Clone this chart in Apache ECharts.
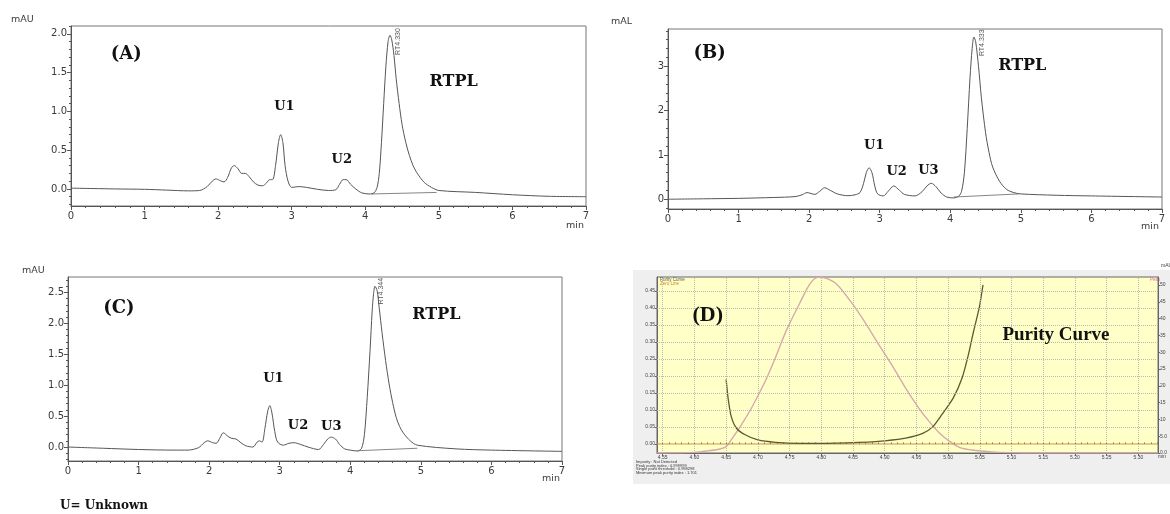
<!DOCTYPE html>
<html>
<head>
<meta charset="utf-8">
<title>chromatograms</title>
<script src="https://cdn.jsdelivr.net/npm/echarts@6/dist/echarts.min.js"></script>
<style>body{margin:0;background:#fff}#chart{width:1170px;height:514px}</style>
</head>
<body>
<div id="chart"></div>
<script type="text/javascript">
// ---- values: [time (min), signal] ----
var traceA = [[0,0.01],[0.3,0.005],[0.6,0.0],[1.0,-0.005],[1.3,-0.015],[1.6,-0.025],[1.75,-0.02],[1.85,0.03],[1.92,0.1],[1.97,0.13],[2.02,0.11],[2.08,0.09],[2.13,0.15],[2.18,0.27],[2.22,0.30],[2.27,0.26],[2.32,0.2],[2.37,0.2],[2.42,0.16],[2.48,0.09],[2.54,0.05],[2.6,0.04],[2.66,0.08],[2.7,0.12],[2.74,0.12],[2.78,0.3],[2.82,0.6],[2.85,0.70],[2.88,0.6],[2.91,0.3],[2.95,0.1],[3.0,0.02],[3.1,0.03],[3.2,0.02],[3.35,-0.005],[3.5,-0.02],[3.6,-0.01],[3.65,0.06],[3.7,0.12],[3.74,0.12],[3.8,0.06],[3.87,0.0],[3.95,-0.05],[4.05,-0.065],[4.12,-0.05],[4.16,0.02],[4.19,0.2],[4.22,0.6],[4.25,1.1],[4.28,1.58],[4.31,1.9],[4.335,1.98],[4.36,1.92],[4.39,1.72],[4.42,1.42],[4.46,1.1],[4.5,0.83],[4.55,0.6],[4.6,0.43],[4.65,0.3],[4.7,0.21],[4.8,0.085],[4.9,0.02],[5.0,-0.02],[5.5,-0.045],[6.0,-0.075],[6.5,-0.095],[7.0,-0.1]];
var traceB = [[0,0],[0.5,0.01],[1.0,0.02],[1.5,0.04],[1.8,0.06],[1.9,0.1],[1.97,0.15],[2.08,0.11],[2.15,0.18],[2.22,0.26],[2.3,0.2],[2.4,0.12],[2.55,0.08],[2.65,0.1],[2.72,0.15],[2.77,0.35],[2.81,0.6],[2.85,0.71],[2.89,0.6],[2.93,0.3],[2.97,0.12],[3.05,0.075],[3.12,0.18],[3.2,0.30],[3.28,0.2],[3.35,0.11],[3.5,0.075],[3.6,0.17],[3.67,0.3],[3.73,0.36],[3.8,0.28],[3.87,0.14],[3.95,0.05],[4.05,0.03],[4.12,0.07],[4.16,0.18],[4.2,0.6],[4.24,1.6],[4.28,2.75],[4.31,3.4],[4.335,3.66],[4.36,3.55],[4.4,3.0],[4.44,2.3],[4.5,1.5],[4.55,1.05],[4.6,0.73],[4.7,0.4],[4.8,0.22],[4.9,0.15],[5.0,0.12],[5.5,0.09],[6.0,0.075],[7.0,0.05]];
var traceC = [[0,0],[0.5,-0.02],[1.0,-0.04],[1.5,-0.05],[1.7,-0.05],[1.85,-0.01],[1.93,0.07],[1.98,0.1],[2.05,0.07],[2.1,0.06],[2.15,0.14],[2.2,0.23],[2.27,0.17],[2.32,0.14],[2.38,0.13],[2.45,0.07],[2.52,0.02],[2.62,0.0],[2.68,0.08],[2.71,0.1],[2.75,0.08],[2.79,0.3],[2.83,0.58],[2.86,0.67],[2.89,0.55],[2.93,0.25],[2.97,0.08],[3.05,0.03],[3.13,0.06],[3.2,0.07],[3.3,0.04],[3.4,0.0],[3.55,-0.04],[3.62,0.04],[3.68,0.13],[3.73,0.16],[3.79,0.13],[3.85,0.04],[3.92,-0.03],[4.0,-0.05],[4.1,-0.065],[4.16,-0.02],[4.2,0.2],[4.24,0.8],[4.28,1.56],[4.31,2.2],[4.33,2.48],[4.35,2.6],[4.38,2.53],[4.41,2.25],[4.45,1.85],[4.5,1.4],[4.55,1.02],[4.6,0.72],[4.65,0.48],[4.7,0.33],[4.75,0.23],[4.85,0.1],[4.95,0.03],[5.5,-0.03],[6.0,-0.05],[7.0,-0.07]];
var baseA = [[4.08,-0.065],[4.97,-0.045]];
var baseB = [[4.05,0.05],[4.97,0.12]];
var baseC = [[4.1,-0.06],[4.95,-0.02]];

// purity plot (D)
var peakD = [[4.541,0],[4.60,0.2],[4.62,0.6],[4.64,1.2],[4.65,1.9],[4.658,3.9],[4.674,8.4],[4.69,13.4],[4.712,21.5],[4.728,28.5],[4.745,36.5],[4.766,44.6],[4.783,50.6],[4.796,52.3],[4.808,52.0],[4.824,50.3],[4.846,45.2],[4.868,39.2],[4.889,32.8],[4.911,26.3],[4.933,19.3],[4.954,13.3],[4.97,9.4],[4.987,5.8],[5.003,3.4],[5.019,1.6],[5.04,0.8],[5.068,0.35],[5.095,0.1],[5.12,0],[5.331,0]];
var purityD = [[4.650,0.19],[4.653,0.136],[4.658,0.081],[4.666,0.047],[4.68,0.027],[4.70,0.012],[4.728,0.005],[4.766,0.002],[4.80,0.002],[4.85,0.004],[4.88,0.006],[4.90,0.009],[4.933,0.017],[4.96,0.031],[4.976,0.051],[4.99,0.086],[5.008,0.135],[5.022,0.194],[5.032,0.263],[5.04,0.33],[5.049,0.40],[5.055,0.468]];
var zeroD = [[4.541,0],[5.331,0]];

// tick labels
var yTicksA = [0, 0.5, 1, 1.5, 2];
var yTicksB = [0, 1, 2, 3];
var yTicksC = [0, 0.5, 1, 1.5, 2, 2.5];
var xTicksD = [4.55,4.60,4.65,4.70,4.75,4.80,4.85,4.90,4.95,5.00,5.05,5.10,5.15,5.20,5.25,5.30];
var yTicksD = [0,0.05,0.10,0.15,0.20,0.25,0.30,0.35,0.40,0.45];
var rTicksD = [0,5,10,15,20,25,30,35,40,45,50];
var infoD = ['Impurity : Not Detected', 'Peak purity index : 0.999999', 'Single point threshold : 0.998298', 'Minimum peak purity index : 1.701'];

function steps(from, to, step) {
    var out = [];
    for (var v = from; v <= to + 1e-9; v += step) out.push(Math.round(v * 1000) / 1000);
    return out;
}

var AX = '#555', LBL = '#3a3a3a';
var SANS = 'DejaVu Sans';
var SERIF = 'DejaVu Serif';

function chromX(g) {
    return {
        gridIndex: g, type: 'value', min: 0, max: 7, interval: 1,
        axisLine: {show: true, onZero: false, lineStyle: {color: AX}},
        axisTick: {length: 4, lineStyle: {color: AX}},
        minorTick: {show: true, splitNumber: 5, length: 2, lineStyle: {color: AX}},
        axisLabel: {fontSize: 10, color: LBL, margin: 5, fontFamily: SANS},
        splitLine: {show: false}
    };
}
function chromY(g, min, max, ticks, dec) {
    return {
        gridIndex: g, type: 'value', position: 'left', min: min, max: max,
        axisLine: {show: true, onZero: false, lineStyle: {color: AX}},
        axisTick: {show: true, customValues: ticks, length: 4, lineStyle: {color: AX}},
        axisLabel: {customValues: ticks, fontSize: 10, color: LBL, margin: 4, fontFamily: SANS,
            formatter: function (v) { return v.toFixed(dec); }},
        splitLine: {show: false}
    };
}
function minorY(g, min, max, ticks) {
    return {
        gridIndex: g, type: 'value', position: 'left', min: min, max: max,
        axisLine: {show: false},
        axisTick: {show: true, customValues: ticks, length: 2, lineStyle: {color: AX}},
        axisLabel: {show: false},
        splitLine: {show: false}
    };
}
function note(coord, text, size, extra) {
    var lab = {show: true, position: 'inside', formatter: text, fontSize: size,
        fontWeight: 'bold', fontFamily: SERIF, color: '#111'};
    if (extra) for (var k in extra) lab[k] = extra[k];
    return {coord: coord, label: lab};
}
function rt(coord, text) {
    return note(coord, text, 7, {fontWeight: 'normal', fontFamily: 'Liberation Sans', color: '#555', rotate: 90});
}
function trace(xi, yi, data, notes) {
    return {
        type: 'line', xAxisIndex: xi, yAxisIndex: yi, data: data, showSymbol: false,
        smooth: 0.3, lineStyle: {color: '#555', width: 1}, silent: true,
        markPoint: {symbol: 'circle', symbolSize: 1, itemStyle: {color: 'rgba(0,0,0,0)'}, silent: true, data: notes}
    };
}
function baseline(xi, yi, data) {
    return {type: 'line', xAxisIndex: xi, yAxisIndex: yi, data: data, showSymbol: false,
        lineStyle: {color: '#666', width: 0.8}, silent: true};
}
function txt(x, y, s, style) {
    var st = {x: x, y: y, text: s, fontSize: 9.5, fill: LBL, fontFamily: SANS};
    if (style) for (var k in style) st[k] = style[k];
    return {type: 'text', style: st, silent: true};
}

var chart = echarts.init(document.getElementById('chart'));
var frame = {show: true, borderColor: '#777', borderWidth: 1, backgroundColor: 'transparent'};
var dotted = {type: 'dotted', color: '#b4b4b4', width: 1, opacity: 0.9};

chart.setOption({
    animation: false,
    grid: [
        Object.assign({left: 71, top: 26, width: 515, height: 180}, frame),
        Object.assign({left: 668, top: 29, width: 494, height: 180}, frame),
        Object.assign({left: 68, top: 277, width: 494, height: 184}, frame),
        {left: 657, top: 277, width: 503, height: 176, show: true, borderColor: '#666', borderWidth: 1, backgroundColor: '#FFFFC8'}
    ],
    xAxis: [
        chromX(0), chromX(1), chromX(2),
        {
            gridIndex: 3, type: 'value', min: 4.541, max: 5.331,
            axisLine: {show: true, onZero: false, lineStyle: {color: '#666'}},
            axisTick: {show: true, customValues: xTicksD, length: 3, lineStyle: {color: '#666'}},
            axisLabel: {customValues: xTicksD, fontSize: 5, color: '#444', margin: 2,
                formatter: function (v) { return v.toFixed(2); }},
            splitLine: {show: false}
        },
        {
            gridIndex: 3, type: 'value', min: 4.541, max: 5.331,
            axisLine: {show: false},
            axisTick: {show: true, customValues: steps(4.55, 5.33, 0.01), length: 1.5, lineStyle: {color: '#666'}},
            axisLabel: {show: false}, splitLine: {show: false}
        }
    ],
    yAxis: [
        chromY(0, -0.22, 2.1, yTicksA, 1), minorY(0, -0.22, 2.1, steps(-0.2, 2.1, 0.1)),
        chromY(1, -0.22, 3.84, yTicksB, 0), minorY(1, -0.22, 3.84, steps(-0.2, 3.8, 0.2)),
        chromY(2, -0.226, 2.75, yTicksC, 1), minorY(2, -0.226, 2.75, steps(-0.2, 2.7, 0.1)),
        {
            gridIndex: 3, type: 'value', position: 'left', min: -0.0265, max: 0.491,
            axisLine: {show: true, onZero: false, lineStyle: {color: '#666'}},
            axisTick: {show: true, customValues: yTicksD, length: 2, lineStyle: {color: '#666'}},
            axisLabel: {customValues: yTicksD, fontSize: 5, color: '#444', margin: 2,
                formatter: function (v) { return v.toFixed(2); }},
            splitLine: {show: false}
        },
        {
            gridIndex: 3, type: 'value', position: 'right', min: 0, max: 52.4,
            axisLine: {show: true, onZero: false, lineStyle: {color: '#666'}},
            axisTick: {show: true, customValues: rTicksD, length: 2, lineStyle: {color: '#666'}},
            axisLabel: {customValues: rTicksD, fontSize: 5, color: '#444', margin: 2,
                formatter: function (v) { return v < 10 ? v.toFixed(1) : String(v); }},
            splitLine: {show: false}
        }
    ],
    series: [
        trace(0, 0, traceA, [
            note([0.75, 1.74], '(A)', 18), note([2.9, 1.055], 'U1', 13), note([3.68, 0.38], 'U2', 13),
            note([5.2, 1.38], 'RTPL', 16), rt([4.45, 1.9], 'RT4.330')
        ]),
        baseline(0, 0, baseA),
        trace(1, 2, traceB, [
            note([0.59, 3.3], '(B)', 18), note([2.92, 1.22], 'U1', 13), note([3.24, 0.62], 'U2', 13),
            note([3.69, 0.645], 'U3', 13), note([5.02, 3.01], 'RTPL', 16), rt([4.45, 3.53], 'RT4.333')
        ]),
        baseline(1, 2, baseB),
        trace(2, 4, traceC, [
            note([0.72, 2.24], '(C)', 18), note([2.91, 1.1], 'U1', 13), note([3.26, 0.35], 'U2', 13),
            note([3.73, 0.33], 'U3', 13), note([5.22, 2.13], 'RTPL', 16), rt([4.44, 2.52], 'RT4.344')
        ]),
        baseline(2, 4, baseC),
        {
            // dotted grid of the purity plot
            type: 'line', xAxisIndex: 3, yAxisIndex: 6, data: [], silent: true,
            itemStyle: {color: '#b4b4b4'},
            markLine: {symbol: 'none', silent: true, label: {show: false}, lineStyle: dotted, animation: false,
                emphasis: {disabled: true},
                data: xTicksD.map(function (v) { return {xAxis: v, lineStyle: dotted}; })
                    .concat(yTicksD.slice(1).map(function (v) { return {yAxis: v, lineStyle: dotted}; }))}
        },
        {
            type: 'line', xAxisIndex: 3, yAxisIndex: 7, data: peakD, showSymbol: false,
            smooth: 0.3, lineStyle: {color: '#d8a8ae', width: 1.4}, silent: true
        },
        {
            type: 'line', xAxisIndex: 3, yAxisIndex: 6, data: zeroD, showSymbol: false,
            lineStyle: {color: '#c8963c', width: 1}, silent: true
        },
        {
            type: 'line', xAxisIndex: 3, yAxisIndex: 6, data: purityD, showSymbol: false,
            smooth: 0.2, lineStyle: {color: '#5e5a30', width: 1.3}, silent: true,
            markPoint: {symbol: 'circle', symbolSize: 1, itemStyle: {color: 'rgba(0,0,0,0)'}, silent: true, data: [
                note([4.621, 0.379], '(D)', 22, {fontFamily: 'Liberation Serif'}),
                note([5.17, 0.32], 'Purity Curve', 19, {fontFamily: 'Liberation Serif'})
            ]}
        }
    ],
    graphic: [
        {type: 'rect', shape: {x: 633, y: 270, width: 537, height: 214}, style: {fill: '#EFEFEF'}, z: -100, silent: true},
        txt(11, 15, 'mAU'),
        txt(611, 17, 'mAL'),
        txt(22, 266, 'mAU'),
        txt(566, 221, 'min'),
        txt(1141, 222, 'min'),
        txt(542, 474, 'min'),
        txt(60, 500, 'U= Unknown', {fontFamily: SERIF, fontWeight: 'bold', fontSize: 12, fill: '#111'}),
        txt(1161, 263, 'mAU', {fontSize: 5, fontFamily: 'Liberation Sans'}),
        txt(1150, 277, 'Peak', {fontSize: 4.5, fill: '#d070a0', fontFamily: 'Liberation Sans'}),
        txt(660, 277, 'Purity Curve', {fontSize: 4.5, fill: '#555', fontFamily: 'Liberation Sans'}),
        txt(660, 281.5, 'Zero Line', {fontSize: 4.5, fill: '#d08030', fontFamily: 'Liberation Sans'}),
        txt(1158, 454, 'min', {fontSize: 5, fill: '#444', fontFamily: 'Liberation Sans'}),
        txt(636, 460, infoD[0], {fontSize: 4, fill: '#333', fontFamily: 'Liberation Sans'}),
        txt(636, 463.5, infoD[1], {fontSize: 4, fill: '#333', fontFamily: 'Liberation Sans'}),
        txt(636, 467, infoD[2], {fontSize: 4, fill: '#333', fontFamily: 'Liberation Sans'}),
        txt(636, 470.5, infoD[3], {fontSize: 4, fill: '#333', fontFamily: 'Liberation Sans'})
    ]
});
</script>
</body>
</html>
